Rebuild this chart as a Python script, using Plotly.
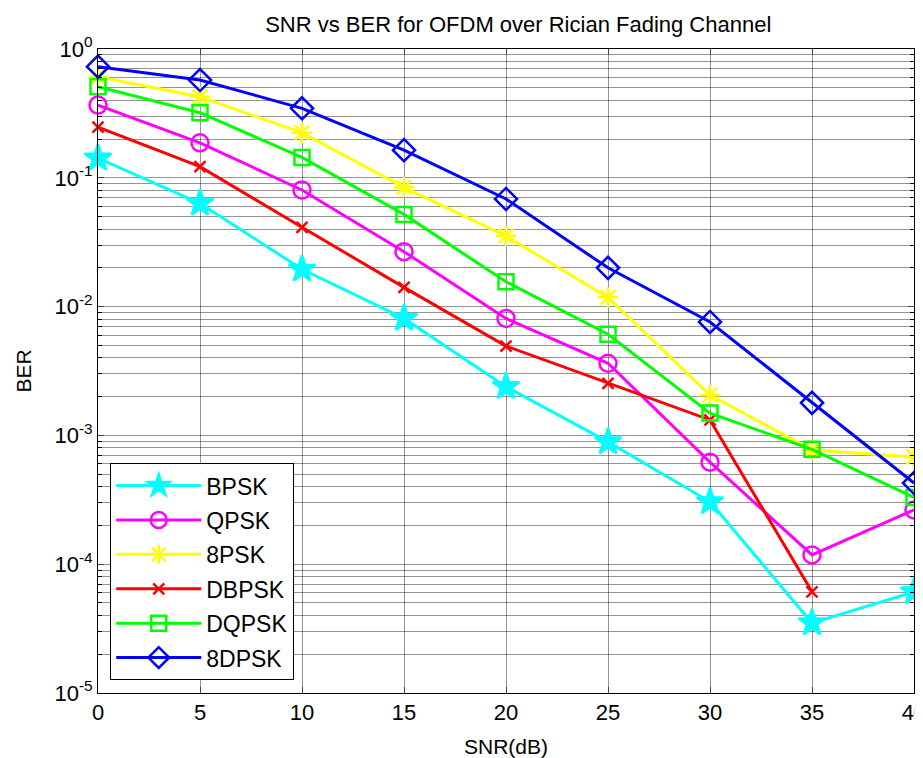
import plotly.graph_objects as go

snr = [0, 5, 10, 15, 20, 25, 30, 35, 40]

bpsk = [0.142, 0.0634, 0.0195, 0.0081, 0.00239, 8.9e-4, 3.05e-4, 3.5e-5, 6.1e-5]
qpsk = [0.367, 0.187, 0.0804, 0.0267, 0.0081, 0.00363, 6.2e-4, 1.18e-4, 2.64e-4]
psk8 = [0.61, 0.426, 0.224, 0.0844, 0.0353, 0.0118, 0.00206, 7.7e-4, 6.8e-4]
dbpsk = [0.247, 0.122, 0.0413, 0.0141, 0.00494, 0.00254, 0.00132, 6.1e-5, None]
dqpsk = [0.51, 0.32, 0.144, 0.052, 0.0156, 0.0061, 0.00149, 7.8e-4, 3.3e-4]
dpsk8 = [0.729, 0.574, 0.3464, 0.164, 0.0685, 0.02, 0.0076, 0.00179, 4.27e-4]

names = ["BPSK", "QPSK", "8PSK", "DBPSK", "DQPSK", "8DPSK"]
colors = ["#00ffff", "#ff00ff", "#ffff00", "#ff0000", "#00ff00", "#0000ff"]
symbols = ["star", "circle-open", "asterisk-open", "x-thin-open", "square-open", "diamond-open"]
sizes = [20, 17, 17, 11, 15, 17]
series = [bpsk, qpsk, psk8, dbpsk, dqpsk, dpsk8]

xticks = [0, 5, 10, 15, 20, 25, 30, 35, 40]
yticks = [1, 0.1, 0.01, 0.001, 0.0001, 0.00001]
yticktext = ["10<sup>0</sup>", "10<sup>-1</sup>", "10<sup>-2</sup>", "10<sup>-3</sup>",
             "10<sup>-4</sup>", "10<sup>-5</sup>"]

fig = go.Figure()
for i, (name, col, sym, sz, ys) in enumerate(zip(names, colors, symbols, sizes, series)):
    fig.add_trace(go.Scatter(
        x=snr, y=ys, name=name, mode="lines+markers", cliponaxis=False,
        legendgroup=f"g{i}",
        line=dict(color=col, width=3),
        marker=dict(symbol=sym, size=sz, color=col, line=dict(color=col, width=2.5)),
    ))

grid = "rgba(0,0,0,0.42)"
minor_vals = [k * 10.0 ** e for e in range(-5, 0) for k in range(2, 10)]

fig.update_layout(
    width=923, height=758,
    margin=dict(l=90, r=17, t=41, b=73),
    paper_bgcolor="white", plot_bgcolor="white",
    font=dict(family="Liberation Sans, Arial", size=21, color="black"),
    title=dict(text="SNR vs BER for OFDM over Rician Fading Channel",
               x=0.515, xref="paper", xanchor="center", y=1 - 16 / 758, yref="container",
               yanchor="middle", font=dict(size=22)),
    showlegend=True,
    legend=dict(x=0.015, y=0.02, xanchor="left", yanchor="bottom",
                bgcolor="white", bordercolor="black", borderwidth=1,
                font=dict(size=23), tracegroupgap=1.5, itemwidth=85),
    xaxis=dict(range=[0, 40], tickvals=xticks, ticks="inside", ticklen=6,
               automargin=False, ticklabeloverflow="allow",
               showline=True, linecolor="black", linewidth=1, mirror="ticks",
               showgrid=True, gridcolor=grid, gridwidth=1, zeroline=False,
               title=dict(text="SNR(dB)", standoff=14, font=dict(size=21)),
               tickfont=dict(size=22)),
    yaxis=dict(type="log", range=[-5, 0], tickvals=yticks, ticktext=yticktext,
               ticks="inside", ticklen=6, automargin=False,
               showline=True, linecolor="black", linewidth=1, mirror="ticks",
               showgrid=True, gridcolor=grid, gridwidth=1, zeroline=False,
               title=dict(text="BER", standoff=17, font=dict(size=21)),
               tickfont=dict(size=22),
               minor=dict(tickvals=minor_vals, ticks="inside", ticklen=4,
                          tickcolor="black", showgrid=True, gridcolor=grid, gridwidth=1)),
)

fig.write_html("out.html")
